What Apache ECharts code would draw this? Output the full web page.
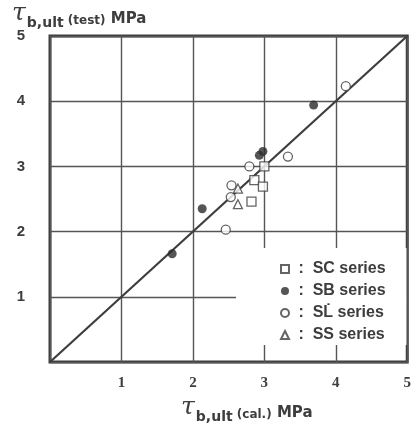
<!DOCTYPE html>
<html>
<head>
<meta charset="utf-8">
<script src="https://cdn.jsdelivr.net/npm/echarts@6/dist/echarts.min.js"></script>
<style>
html, body { margin: 0; padding: 0; background: #fff; }
#chart { width: 414px; height: 426px; }
</style>
</head>
<body>
<div id="chart"></div>
<script>
// tick labels for both axes
var ticks = [0, 1, 2, 3, 4, 5];

// [cal., test] pairs in MPa
var scData = [[3.0, 3.0], [2.86, 2.79], [2.98, 2.69], [2.82, 2.46]];
var sbData = [[3.69, 3.94], [2.93, 3.17], [2.98, 3.23], [2.13, 2.35], [1.71, 1.66]];
var slData = [[4.14, 4.23], [3.33, 3.15], [2.79, 3.0], [2.54, 2.71], [2.53, 2.53], [2.46, 2.03]];
var ssData = [[2.63, 2.66], [2.63, 2.42]];
var equality = [[0, 0], [5, 5]];

var ink = '#3d3d3d';

var chart = echarts.init(document.getElementById('chart'));

function hollow(name, symbol, data) {
    return {
        name: name,
        type: 'scatter',
        symbol: symbol,
        symbolSize: 9,
        data: data,
        z: 5,
        itemStyle: { color: '#fff', borderColor: ink, borderWidth: 1.3 }
    };
}

// axis title: tau with subscript, bracket note and unit
function axisTitle(note) {
    return {
        text: '{t|\u03c4}{s|b,ult}{p| (' + note + ')}{m| MPa}',
        rich: {
            t: { fontFamily: 'DejaVu Serif', fontStyle: 'italic', fontSize: 25, fill: ink, verticalAlign: 'bottom', padding: [0, 1, 4, 0] },
            s: { fontFamily: 'DejaVu Sans', fontWeight: 'bold', fontSize: 14, fill: ink, verticalAlign: 'bottom' },
            p: { fontFamily: 'DejaVu Sans', fontWeight: 'bold', fontSize: 12, fill: ink, verticalAlign: 'bottom', padding: [0, 0, 3, 0] },
            m: { fontFamily: 'DejaVu Sans', fontWeight: 'bold', fontSize: 15, fill: ink, verticalAlign: 'bottom', padding: [0, 0, 3, 0] }
        }
    };
}

var option = {
    animation: false,
    backgroundColor: '#fff',
    grid: {
        left: 50, right: 6, top: 36, bottom: 64,
        show: true,
        borderColor: ink,
        borderWidth: 3
    },
    xAxis: {
        type: 'value',
        min: 0, max: 5, interval: 1,
        axisLine: { show: false },
        axisTick: { show: false },
        splitLine: { lineStyle: { color: '#555', width: 1.4 } },
        axisLabel: {
            margin: 14,
            fontFamily: 'Liberation Serif',
            fontWeight: 'bold',
            fontSize: 15,
            color: ink,
            formatter: function(v) { return v === 0 ? '' : String(ticks[v]); }
        }
    },
    yAxis: {
        type: 'value',
        min: 0, max: 5, interval: 1,
        axisLine: { show: false },
        axisTick: { show: false },
        splitLine: { lineStyle: { color: '#555', width: 1.4 } },
        axisLabel: {
            margin: 25,
            fontFamily: 'Liberation Sans',
            fontWeight: 'bold',
            fontSize: 15,
            color: ink,
            formatter: function(v) { return v === 0 ? '' : String(ticks[v]); }
        }
    },
    legend: {
        orient: 'vertical',
        left: 275,
        top: 256,
        itemWidth: 8,
        itemHeight: 8,
        itemGap: 6,
        data: ['SC', 'SB', 'SL', 'SS'],
        formatter: function(name) {
            return ' :  ' + (name === 'SL' ? 'SL\u0307' : name) + ' series';
        },
        textStyle: {
            fontFamily: 'Liberation Sans',
            fontWeight: 'bold',
            fontSize: 16,
            color: ink
        },
        z: 10
    },
    graphic: [
        {
            type: 'rect',
            z: 1,
            shape: { x: 236, y: 248, width: 170.5, height: 97 },
            style: { fill: '#fff' }
        },
        {
            type: 'text',
            left: 12, top: 1,
            style: axisTitle('test')
        },
        {
            type: 'text',
            left: 181, top: 395,
            style: axisTitle('cal.')
        }
    ],
    series: [
        {
            name: 'equality',
            type: 'line',
            data: equality,
            symbol: 'none',
            z: 3,
            lineStyle: { color: ink, width: 2.2 }
        },
        hollow('SC', 'rect', scData),
        {
            name: 'SB',
            type: 'scatter',
            symbol: 'circle',
            symbolSize: 9,
            data: sbData,
            z: 5,
            itemStyle: { color: '#2a2a2a' }
        },
        hollow('SL', 'circle', slData),
        hollow('SS', 'triangle', ssData)
    ]
};

chart.setOption(option);
</script>
</body>
</html>
